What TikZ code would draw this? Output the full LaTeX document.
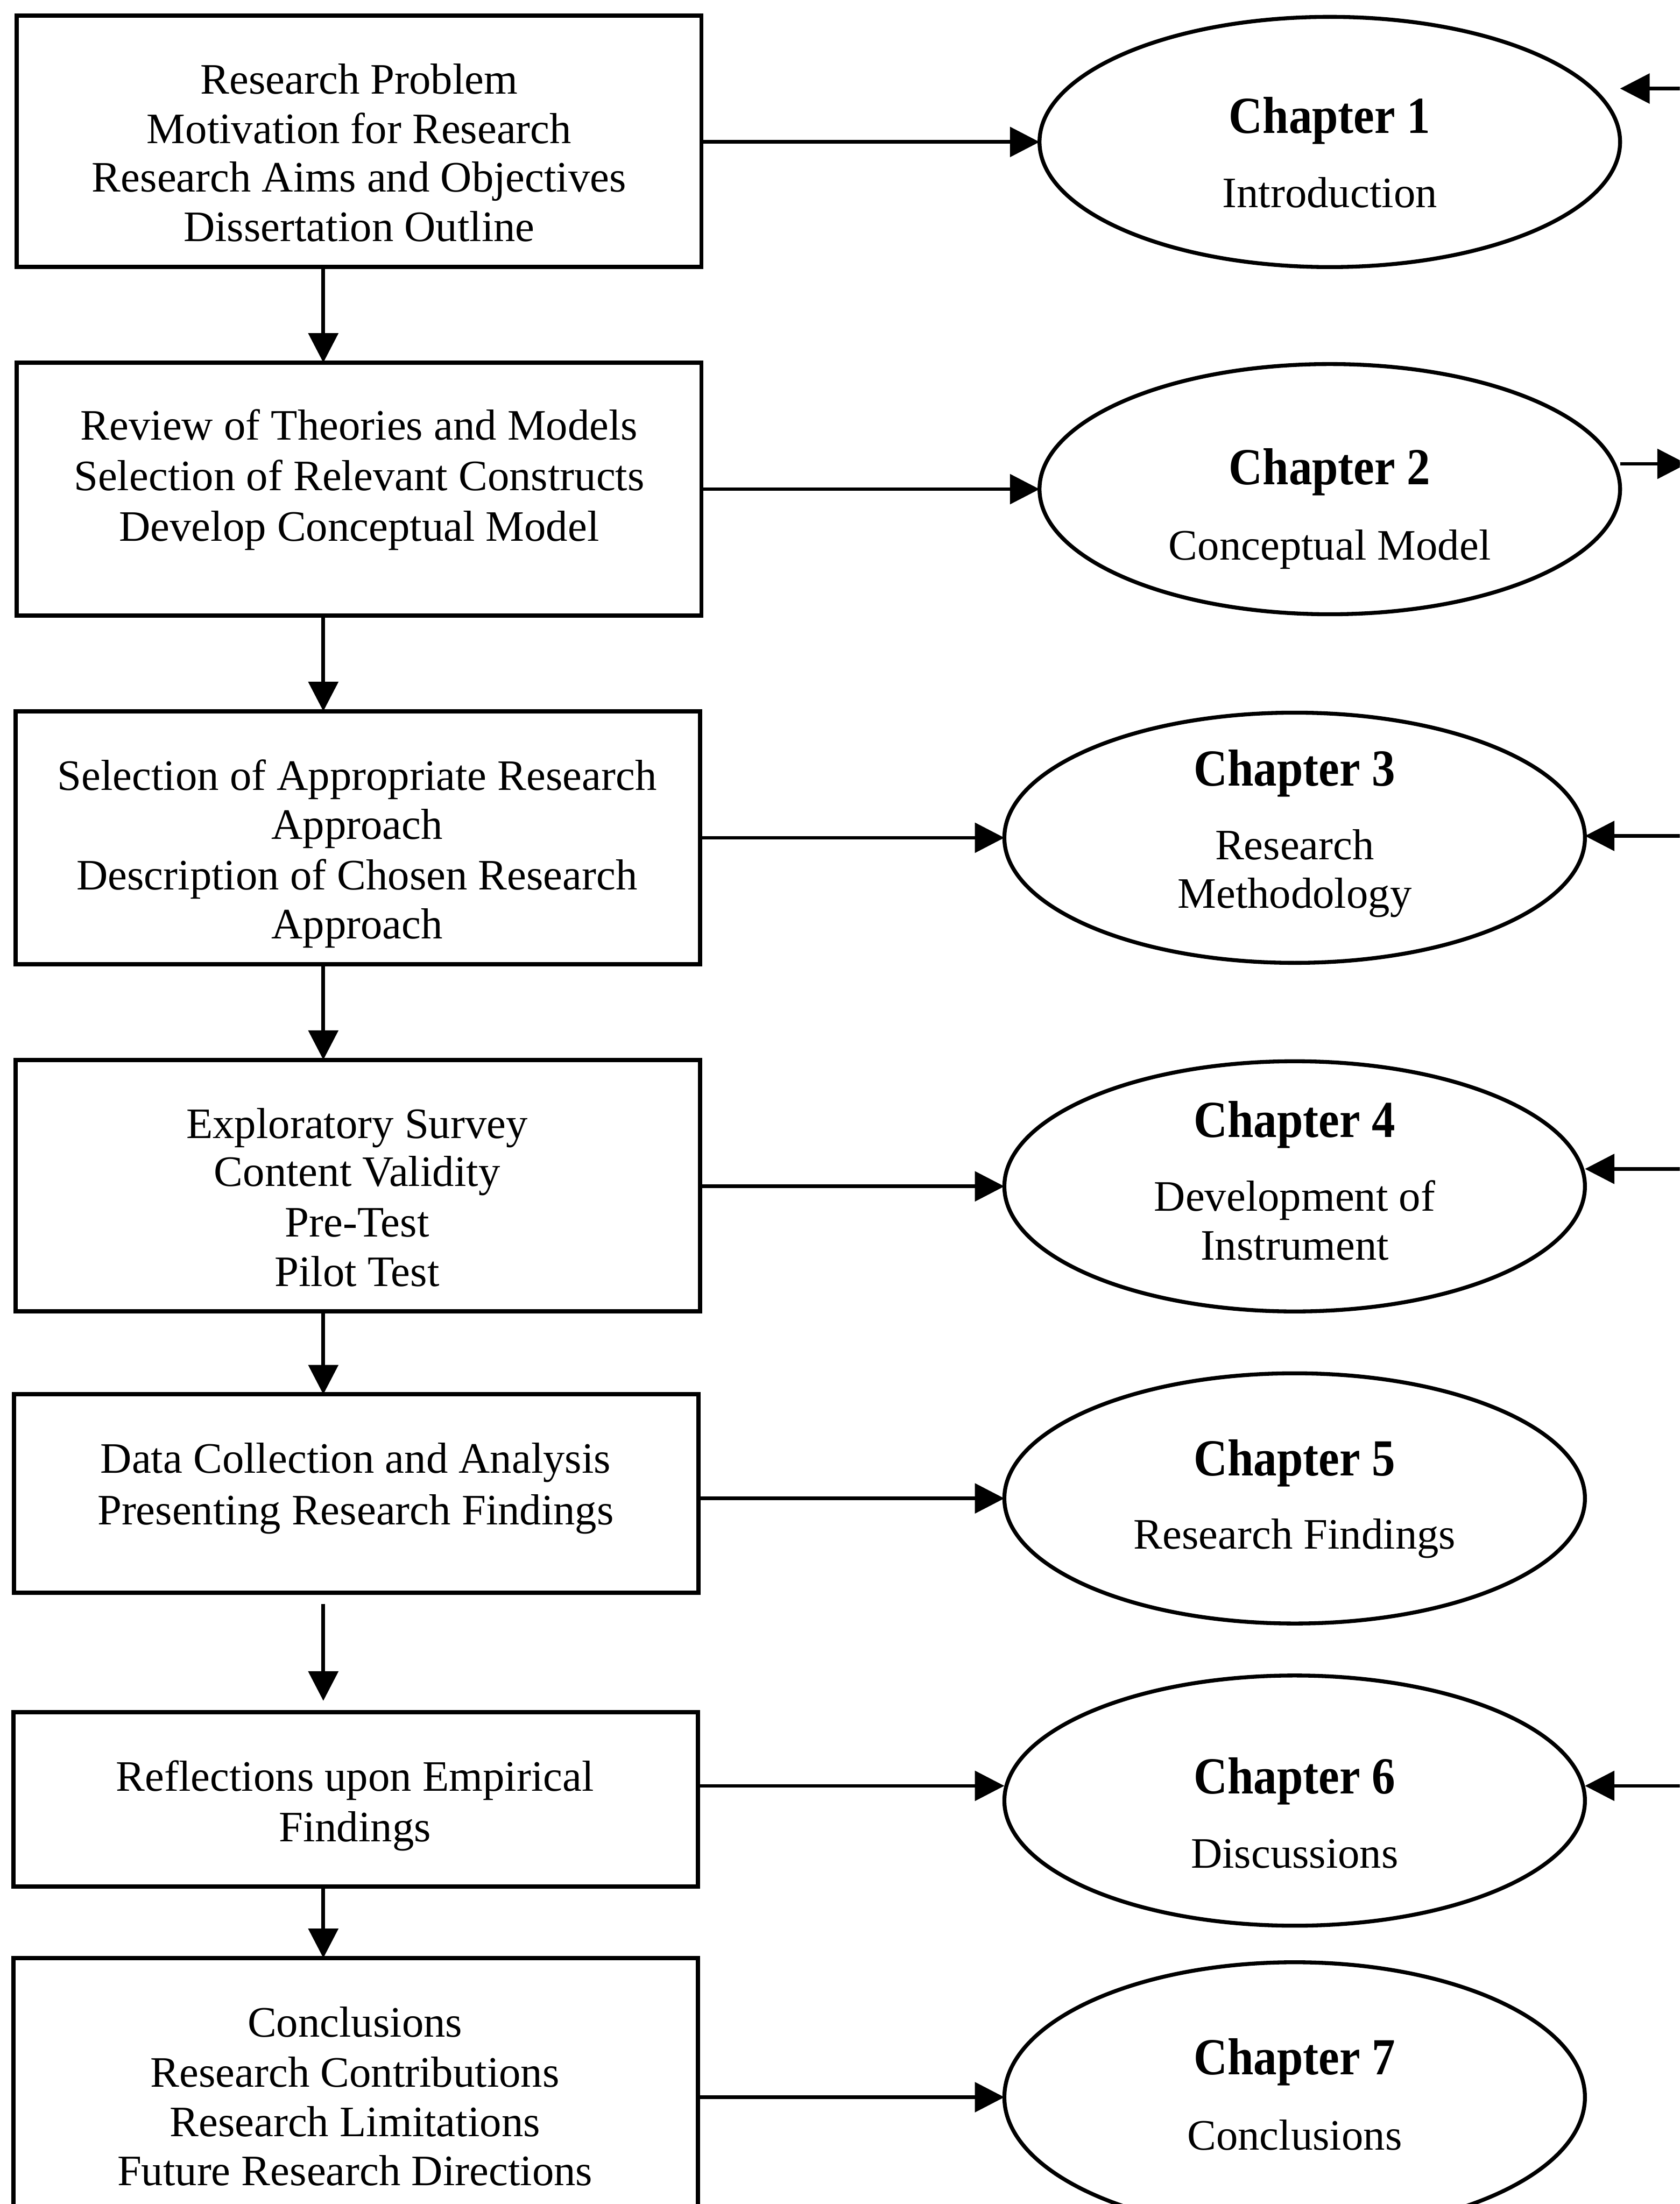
\documentclass[tikz,border=0pt]{standalone}
\usepackage{fontspec}
\setmainfont{Liberation Serif}
\newfontfamily\chapfamily[FakeStretch=0.9]{Liberation Serif}
\usetikzlibrary{shapes.geometric,arrows.meta}
\begin{document}
\begin{tikzpicture}[x=1pt,y=-1pt,
  stagebox/.style={draw,line width=3pt,rectangle,inner sep=0pt,outer sep=0pt,minimum width=487pt},
  chapoval/.style={draw,line width=2.8pt,ellipse,inner sep=0pt,outer sep=0pt,minimum width=413pt,minimum height=178pt},
  bodytext/.style={font=\fontsize{30.9}{35}\selectfont,inner sep=0pt,anchor=base},
  chaptitle/.style={font=\chapfamily\bfseries\fontsize{37}{44}\selectfont,inner sep=0pt,anchor=base},
  arr/.style={line width=2.6pt,-{Triangle[length=21pt,width=21pt]}}]
\useasboundingbox (0,0) rectangle (1195,1568);
\clip (0,0) rectangle (1195,1568);

% column of the vertical connectors, and loose ends on the right margin
\coordinate (colx) at (230,0);
\coordinate (r1) at (1200,63);
\coordinate (r2) at (1200,330);
\coordinate (r3) at (1200,594.7);
\coordinate (r4) at (1200,831.6);
\coordinate (r6) at (1200,1270.5);

% stage boxes
\node[stagebox,minimum height=179pt] (b1) at (255.5,100.5) {};
\node[stagebox,minimum height=180pt] (b2) at (255.5,348) {};
\node[stagebox,minimum height=180pt] (b3) at (254.5,596) {};
\node[stagebox,minimum height=179pt] (b4) at (254.5,843.5) {};
\node[stagebox,minimum height=141pt] (b5) at (253.5,1062.5) {};
\node[stagebox,minimum height=124pt] (b6) at (253,1280) {};
\node[stagebox,minimum height=214pt] (b7) at (253,1500) {};

% box texts
\node[bodytext] (b1l1) at (255.5,66.7) {Research Problem};
\node[bodytext] (b1l2) at (255.5,101.9) {Motivation for Research};
\node[bodytext] (b1l3) at (255.5,136.5) {Research Aims and Objectives};
\node[bodytext] (b1l4) at (255.5,171.8) {Dissertation Outline};

\node[bodytext] (b2l1) at (255.5,313) {Review of Theories and Models};
\node[bodytext] (b2l2) at (255.5,349) {Selection of Relevant Constructs};
\node[bodytext] (b2l3) at (255.5,385) {Develop Conceptual Model};

\node[bodytext] (b3l1) at (254,562) {Selection of Appropriate Research};
\node[bodytext] (b3l2) at (254,597) {Approach};
\node[bodytext] (b3l3) at (254,633) {Description of Chosen Research};
\node[bodytext] (b3l4) at (254,668) {Approach};

\node[bodytext] (b4l1) at (254,810) {Exploratory Survey};
\node[bodytext] (b4l2) at (254,844) {Content Validity};
\node[bodytext] (b4l3) at (254,880) {Pre-Test};
\node[bodytext] (b4l4) at (254,915) {Pilot Test};

\node[bodytext] (b5l1) at (253,1048) {Data Collection and Analysis};
\node[bodytext] (b5l2) at (253,1084.5) {Presenting Research Findings};

\node[bodytext] (b6l1) at (252.5,1274.3) {Reflections upon Empirical};
\node[bodytext] (b6l2) at (252.5,1310.3) {Findings};

\node[bodytext] (b7l1) at (252.5,1449.2) {Conclusions};
\node[bodytext] (b7l2) at (252.5,1484.6) {Research Contributions};
\node[bodytext] (b7l3) at (252.5,1519.8) {Research Limitations};
\node[bodytext] (b7l4) at (252.5,1554.6) {Future Research Directions};

% chapter ovals
\node[chapoval] (e1) at (946,101) {};
\node[chapoval] (e2) at (946,348) {};
\node[chapoval] (e3) at (921,596) {};
\node[chapoval] (e4) at (921,844) {};
\node[chapoval] (e5) at (921,1066) {};
\node[chapoval] (e6) at (921,1281) {};
\node[chapoval,minimum height=192pt] (e7) at (921,1492) {};

% oval texts
\node[chaptitle] (e1h) at (946,94.8) {Chapter 1};
\node[bodytext] (e1t) at (946,147.4) {Introduction};
\node[chaptitle] (e2h) at (946,344.8) {Chapter 2};
\node[bodytext] (e2t) at (946,398.4) {Conceptual Model};
\node[chaptitle] (e3h) at (921,559) {Chapter 3};
\node[bodytext] (e3t) at (921,611.5) {Research};
\node[bodytext] (e3u) at (921,646) {Methodology};
\node[chaptitle] (e4h) at (921,809) {Chapter 4};
\node[bodytext] (e4t) at (921,861.5) {Development of};
\node[bodytext] (e4u) at (921,896.5) {Instrument};
\node[chaptitle] (e5h) at (921,1050) {Chapter 5};
\node[bodytext] (e5t) at (921,1102) {Research Findings};
\node[chaptitle] (e6h) at (921,1276) {Chapter 6};
\node[bodytext] (e6t) at (921,1329) {Discussions};
\node[chaptitle] (e7h) at (921,1476) {Chapter 7};
\node[bodytext] (e7t) at (921,1529.5) {Conclusions};

% flow down the stages
\draw[arr] (b1.south -| colx) -- (b2.north -| colx);
\draw[arr] (b2.south -| colx) -- (b3.north -| colx);
\draw[arr] (b3.south -| colx) -- (b4.north -| colx);
\draw[arr] (b4.south -| colx) -- (b5.north -| colx);
\draw[arr,shorten <=8pt,shorten >=8pt] (b5.south -| colx) -- (b6.north -| colx);
\draw[arr] (b6.south -| colx) -- (b7.north -| colx);

% stage to chapter
\draw[arr] (b1.east |- e1.west) -- (e1.west);
\draw[arr] (b2.east |- e2.west) -- (e2.west);
\draw[arr] (b3.east |- e3.west) -- (e3.west);
\draw[arr] (b4.east |- e4.west) -- (e4.west);
\draw[arr] (b5.east |- e5.west) -- (e5.west);
\draw[arr] (b6.east |- r6) -- (e6.west |- r6);
\draw[arr] (b7.east |- e7.west) -- (e7.west);

% links at the right margin
\draw[arr] (r1) -- (e1.east |- r1);
\draw[arr] (e2.east |- r2) -- (r2);
\draw[arr] (r3) -- (e3.east |- r3);
\draw[arr] (r4) -- (e4.east |- r4);
\draw[arr] (r6) -- (e6.east |- r6);
\end{tikzpicture}
\end{document}
